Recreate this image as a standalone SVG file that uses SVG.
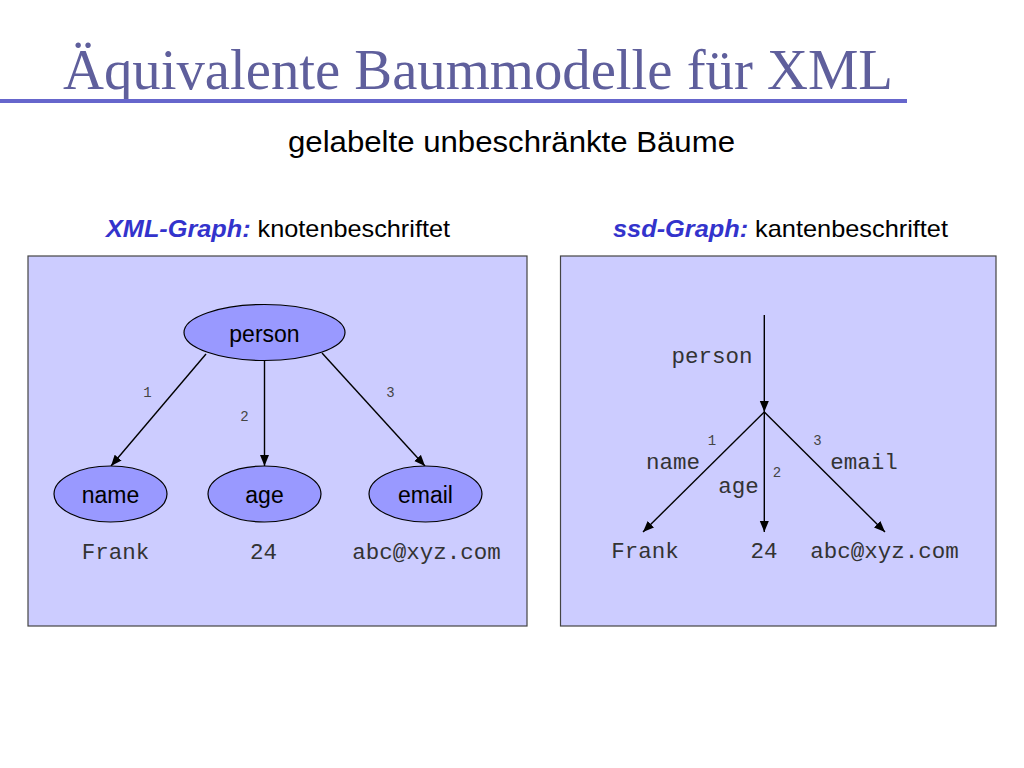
<svg xmlns="http://www.w3.org/2000/svg" width="1024" height="768" viewBox="0 0 1024 768">
<defs>
<marker id="arr" markerUnits="userSpaceOnUse" markerWidth="12" markerHeight="10" refX="11" refY="4.5" orient="auto">
<path d="M0,0 L11,4.5 L0,9 z" fill="#000"/>
</marker>
<style>
.title{font-family:"Liberation Serif","Times New Roman",serif;font-size:57px;fill:#5f5f9c}
.sub{font-family:"Liberation Sans",Arial,sans-serif;font-size:30px;fill:#000}
.hdr{font-family:"Liberation Sans",Arial,sans-serif;font-size:24px;fill:#000}
.hdrb{font-weight:bold;font-style:italic;fill:#3333cc}
.panel{fill:#ccccff;stroke:#444;stroke-width:1.2}
.node{fill:#9999ff;stroke:#000;stroke-width:1.2}
.nlab{font-family:"Liberation Sans",Arial,sans-serif;font-size:23px;fill:#000;text-anchor:middle}
.mono{font-family:"Liberation Mono","Courier New",monospace;font-size:22.5px;fill:#333;text-anchor:middle}
.num{font-family:"Liberation Mono","Courier New",monospace;font-size:14px;fill:#444;text-anchor:middle}
.edge{stroke:#000;stroke-width:1.4;fill:none;marker-end:url(#arr)}
</style>
</defs>
<rect width="1024" height="768" fill="#fff"/>
<text class="title" x="63" y="89" textLength="830" lengthAdjust="spacingAndGlyphs">Äquivalente Baummodelle für XML</text>
<rect x="0" y="99" width="907" height="4" fill="#6666cc"/>
<text class="sub" x="288" y="152" textLength="447" lengthAdjust="spacingAndGlyphs">gelabelte unbeschränkte Bäume</text>
<text class="hdr" x="106" y="237" textLength="344" lengthAdjust="spacingAndGlyphs"><tspan class="hdrb">XML-Graph:</tspan> knotenbeschriftet</text>
<text class="hdr" x="613" y="237" textLength="335" lengthAdjust="spacingAndGlyphs"><tspan class="hdrb">ssd-Graph:</tspan> kantenbeschriftet</text>
<g id="panel-left"><rect class="panel" x="28" y="256" width="499" height="370"/></g>
<g id="panel-right"><rect class="panel" x="560.5" y="256" width="435.5" height="370"/></g>
<g id="connectors">
<line class="edge" x1="206" y1="354" x2="111" y2="466"/>
<line class="edge" x1="264.5" y1="361" x2="264.5" y2="466"/>
<line class="edge" x1="322" y1="353" x2="425" y2="466"/>
<line class="edge" x1="764.3" y1="315" x2="764.3" y2="412"/>
<line class="edge" x1="764.3" y1="412" x2="643" y2="532"/>
<line class="edge" x1="764.3" y1="412" x2="764.3" y2="532"/>
<line class="edge" x1="764.3" y1="412" x2="885" y2="532"/>
<text class="num" x="147.5" y="397">1</text>
<text class="num" x="244.5" y="421">2</text>
<text class="num" x="390.5" y="397">3</text>
<text class="num" x="712" y="445">1</text>
<text class="num" x="777" y="477">2</text>
<text class="num" x="817.5" y="445">3</text>
<text class="mono" x="712" y="363">person</text>
<text class="mono" x="673" y="469">name</text>
<text class="mono" x="738.5" y="493">age</text>
<text class="mono" x="864" y="469">email</text>
</g>
<g id="n-person"><ellipse class="node" cx="264.5" cy="332.5" rx="80.5" ry="28"/><text class="nlab" x="264.5" y="341.5">person</text></g>
<g id="n-name"><ellipse class="node" cx="110.5" cy="494" rx="56.5" ry="28"/><text class="nlab" x="110.5" y="502.5">name</text></g>
<g id="n-age"><ellipse class="node" cx="264.5" cy="494" rx="56.5" ry="28"/><text class="nlab" x="264.5" y="502.5">age</text></g>
<g id="n-email"><ellipse class="node" cx="425.5" cy="494" rx="56.5" ry="28"/><text class="nlab" x="425.5" y="502.5">email</text></g>
<g id="v-frank-l"><text class="mono" x="115.5" y="559">Frank</text></g>
<g id="v-24-l"><text class="mono" x="263.5" y="559">24</text></g>
<g id="v-email-l"><text class="mono" x="426.5" y="559">abc@xyz.com</text></g>
<g id="v-frank-r"><text class="mono" x="645" y="558">Frank</text></g>
<g id="v-24-r"><text class="mono" x="764" y="558">24</text></g>
<g id="v-email-r"><text class="mono" x="884.5" y="558">abc@xyz.com</text></g>
</svg>
